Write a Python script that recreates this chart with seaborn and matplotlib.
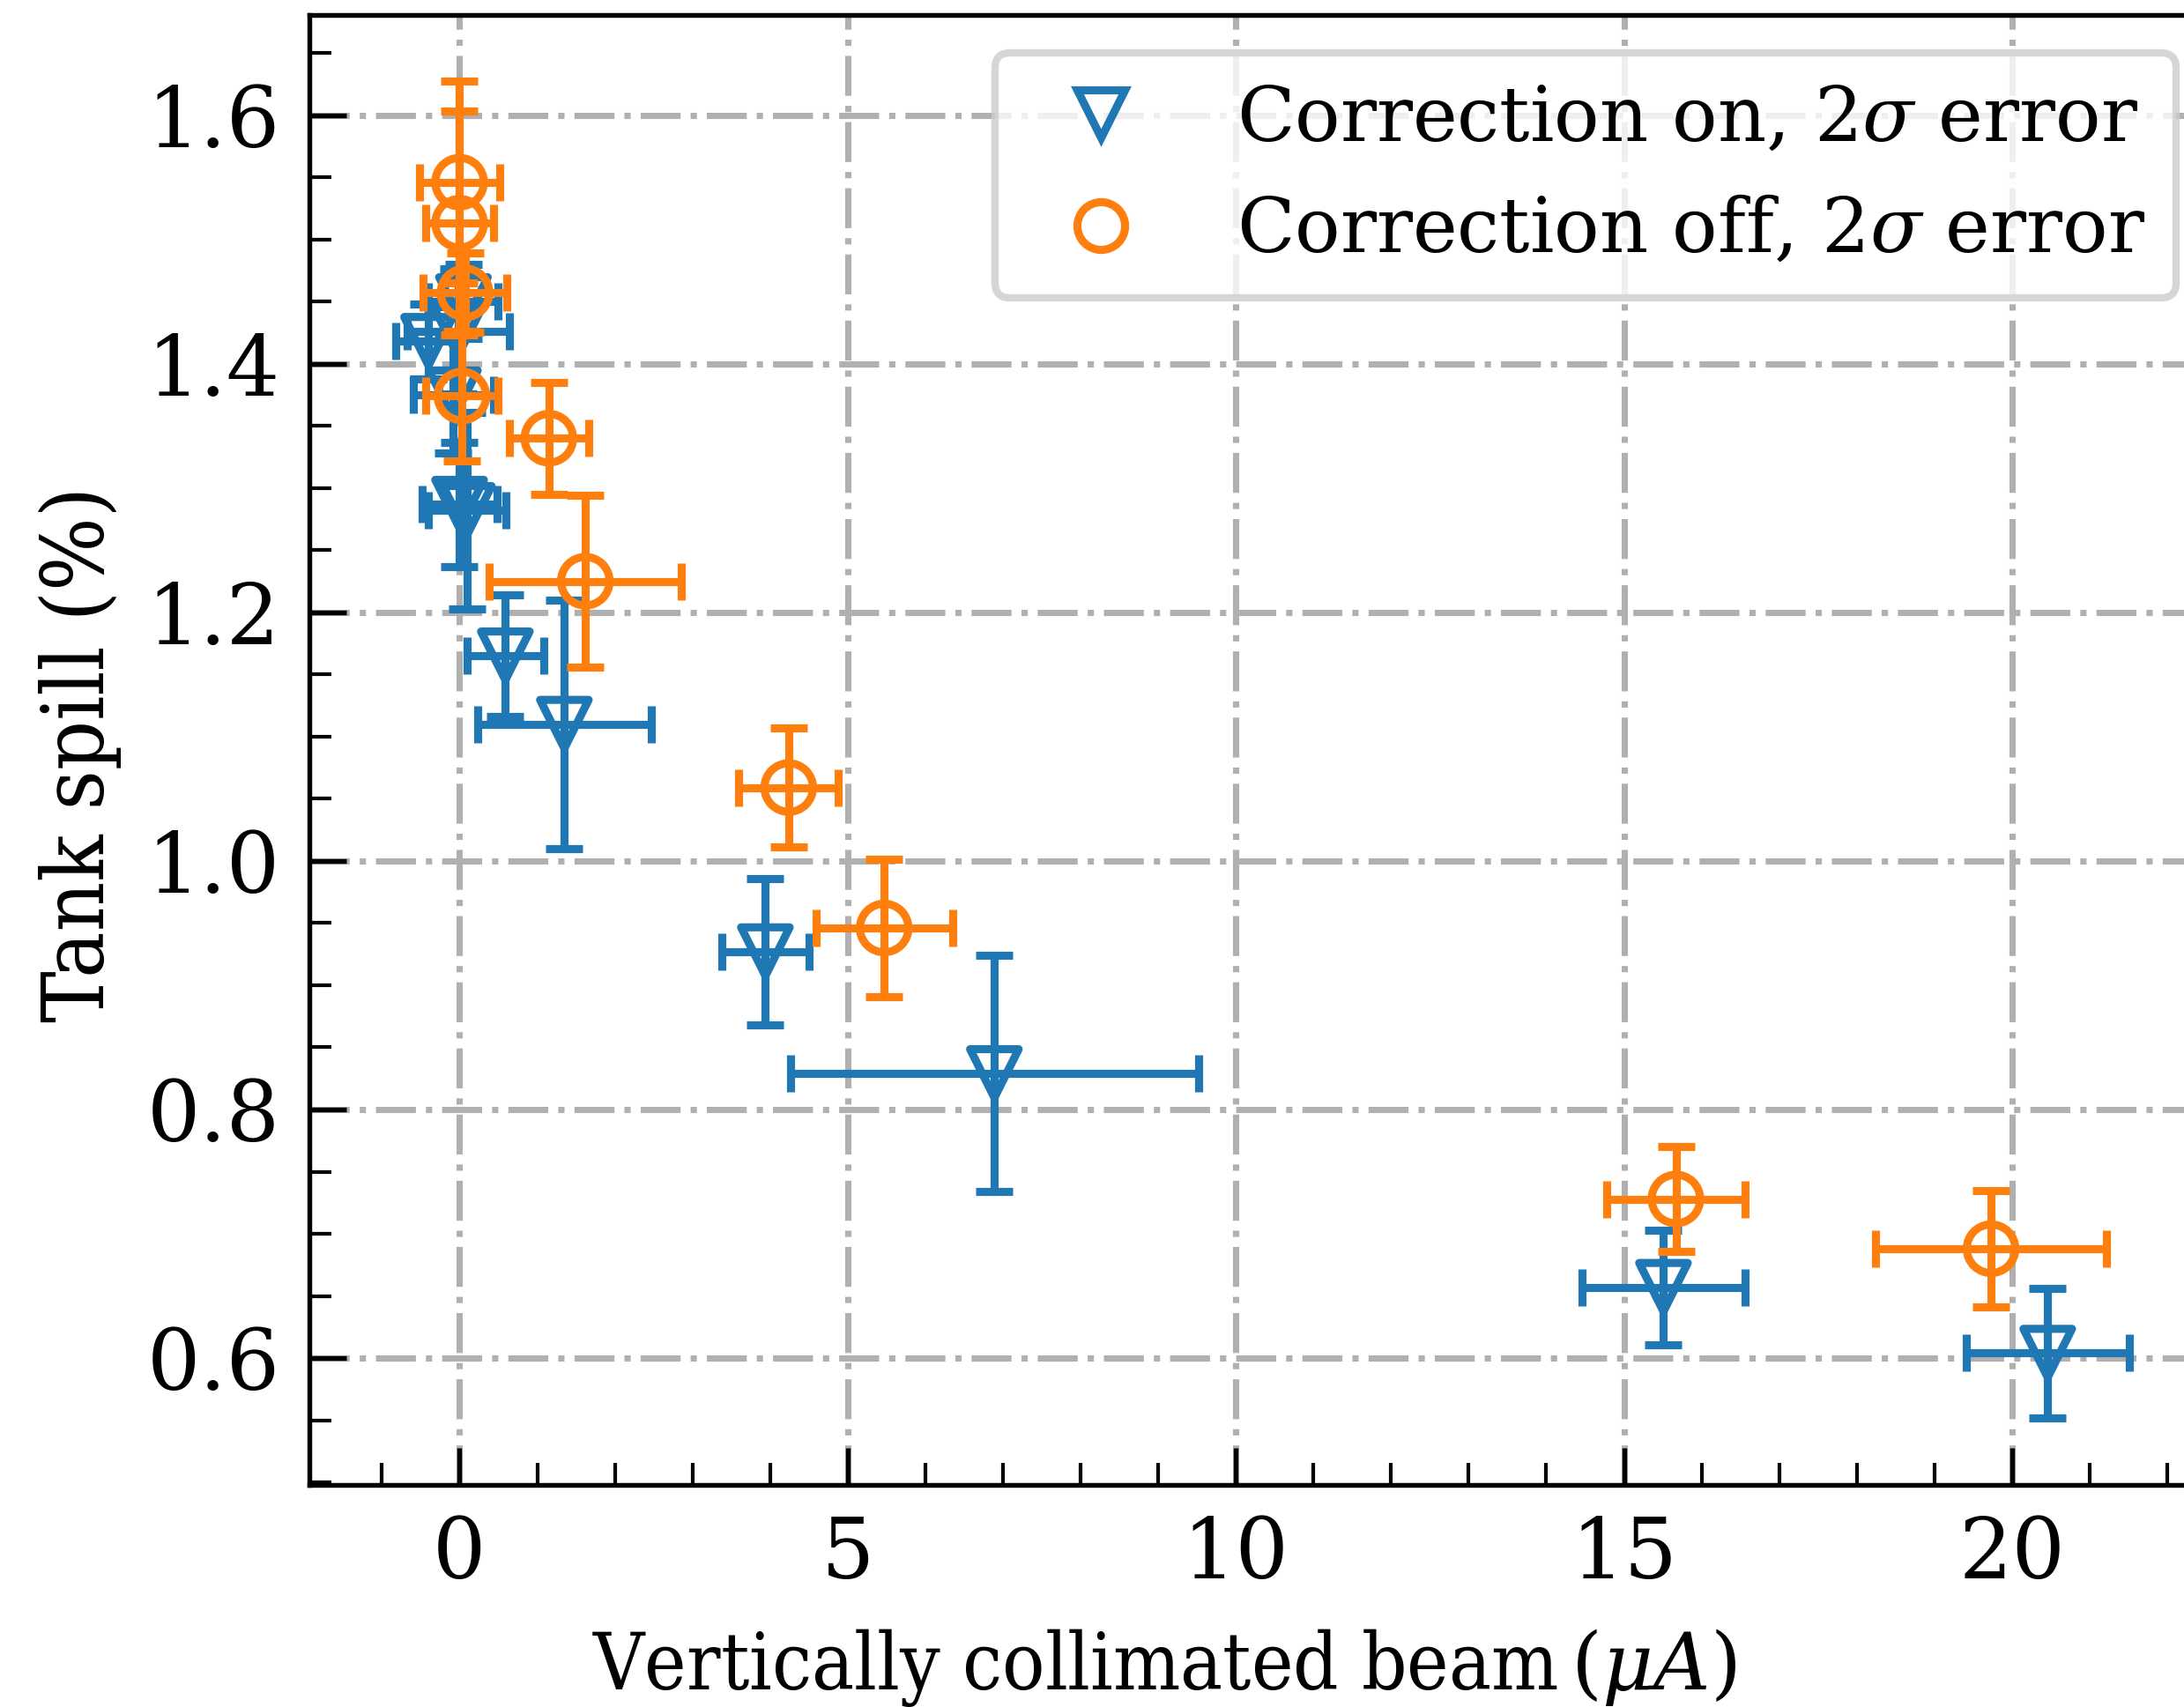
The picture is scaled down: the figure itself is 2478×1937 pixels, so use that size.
import numpy as np
import pandas as pd
import seaborn as sns
import matplotlib.pyplot as plt
from matplotlib.lines import Line2D
from matplotlib.ticker import AutoMinorLocator, MultipleLocator

# Correction on (2-sigma errors)
on_beam = [-0.40, -0.02, 0.05, -0.08, 0.00, 0.10, 0.59, 1.35, 3.94, 6.89, 15.51, 20.46]
on_spill = [1.418, 1.426, 1.450, 1.375, 1.287, 1.282, 1.165, 1.110, 0.927, 0.829, 0.657, 0.604]
on_beam_err = [0.42, 0.66, 0.45, 0.52, 0.48, 0.50, 0.49, 1.12, 0.56, 2.63, 1.05, 1.05]
on_spill_err = [0.030, 0.050, 0.030, 0.047, 0.050, 0.079, 0.049, 0.100, 0.059, 0.095, 0.046, 0.052]

# Correction off (2-sigma errors)
off_beam = [0.00, 0.00, 0.07, 0.03, 1.15, 1.62, 4.24, 5.47, 15.67, 19.73]
off_spill = [1.546, 1.513, 1.457, 1.374, 1.340, 1.225, 1.059, 0.946, 0.728, 0.688]
off_beam_err = [0.52, 0.44, 0.54, 0.47, 0.51, 1.24, 0.64, 0.88, 0.89, 1.49]
off_spill_err = [0.081, 0.090, 0.032, 0.052, 0.045, 0.069, 0.048, 0.055, 0.042, 0.047]

labels = [r"Correction on, $2\sigma$ error", r"Correction off, $2\sigma$ error"]
x_label = r"Vertically collimated beam$\,(\mu A)$"
y_label = "Tank spill (%)"

sns.set_theme(style="white")
plt.rcParams["font.family"] = ["DejaVu Serif"]
plt.rcParams["mathtext.fontset"] = "dejavuserif"
for key in ["text.color", "axes.labelcolor", "xtick.color", "ytick.color", "axes.edgecolor"]:
    plt.rcParams[key] = "black"

palette = sns.color_palette("tab10")[:2]
markers = ["v", "o"]

frames = []
for lab, bx, sy, bxe, sye in [
    (labels[0], on_beam, on_spill, on_beam_err, on_spill_err),
    (labels[1], off_beam, off_spill, off_beam_err, off_spill_err),
]:
    frames.append(pd.DataFrame({"series": lab, "beam": bx, "spill": sy,
                                "beam_err": bxe, "spill_err": sye}))
df = pd.concat(frames, ignore_index=True)

fig = plt.figure(figsize=(2478 / 300, 1937 / 300), dpi=300)
ax = fig.add_axes([0.1416, 0.1303, 0.873, 0.8611])

for i, lab in enumerate(labels):
    sub = df[df["series"] == lab]
    z = 3 + i
    ax.errorbar(sub["beam"], sub["spill"], xerr=sub["beam_err"], yerr=sub["spill_err"],
                fmt="none", ecolor=palette[i], elinewidth=2.2, capsize=5, capthick=2.2,
                zorder=z)
    sns.scatterplot(data=sub, x="beam", y="spill", marker=markers[i], color=palette[i],
                    s=175, linewidth=2.2, legend=False, ax=ax, zorder=z + 0.5)
    pc = ax.collections[-1]
    pc.set_facecolor("none")
    pc.set_edgecolor(palette[i])
    pc.set_linewidth(2.2)

ax.margins(0.05)
ax.xaxis.set_major_locator(MultipleLocator(5))
ax.xaxis.set_minor_locator(AutoMinorLocator(5))
ax.yaxis.set_major_locator(MultipleLocator(0.2))
ax.yaxis.set_minor_locator(AutoMinorLocator(4))

ax.grid(True, which="major", linestyle="-.", linewidth=1.7, color="#b0b0b0")
ax.set_axisbelow(True)

ax.tick_params(which="both", direction="in", left=True, bottom=True, top=False, right=False,
               colors="black", labelsize=22.8, pad=8)
ax.tick_params(which="major", length=10, width=1.3)
ax.tick_params(which="minor", length=6, width=1.0)
for sp in ax.spines.values():
    sp.set_color("black")
    sp.set_linewidth(1.3)

label_family = ["DejaVu Serif Condensed", "DejaVu Serif"]
ax.set_xlabel(x_label, fontsize=21.5, family=label_family, stretch="condensed")
ax.set_ylabel(y_label, fontsize=23.5, family=label_family, stretch="condensed")
ax.xaxis.set_label_coords(0.4485, -0.0965, transform=ax.transAxes)
ax.yaxis.set_label_coords(-0.0985, 0.497, transform=ax.transAxes)

handles = [Line2D([], [], linestyle="none", marker=markers[i], markersize=13,
                  markerfacecolor="none", markeredgecolor=palette[i], markeredgewidth=2.2)
           for i in range(2)]
leg = fig.legend(handles, labels, loc="upper right",
                 bbox_to_anchor=(2469 / 2478, 1 - 60 / 1937),
                 fontsize=20.6, frameon=True, fancybox=True, framealpha=0.8,
                 borderaxespad=0.0, handlelength=2.0, handletextpad=0.8)
leg.get_frame().set_edgecolor("0.8")
leg.get_frame().set_linewidth(2.0)

fig.savefig("out.png", dpi=300)
